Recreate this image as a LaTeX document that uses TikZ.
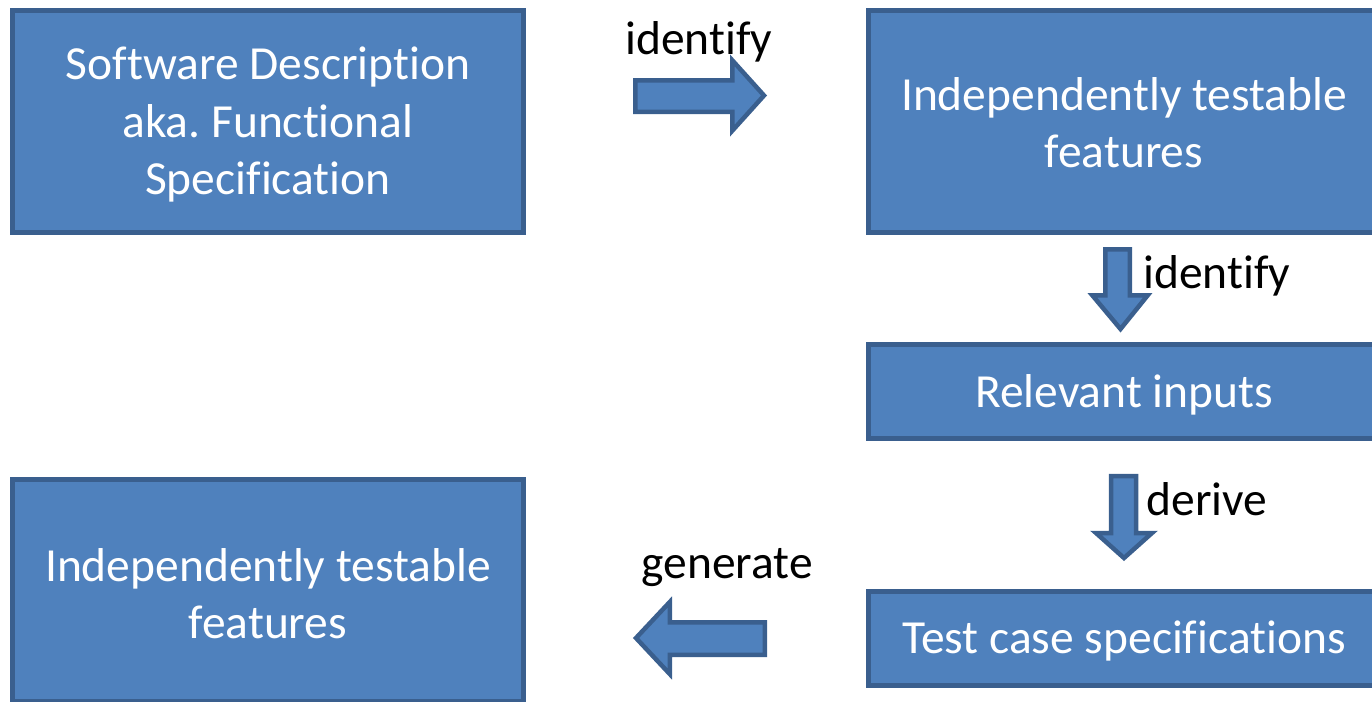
\documentclass[tikz,border=0pt]{standalone}
\usepackage{fontspec}
\setmainfont{Carlito}[Ligatures={CommonOff,ContextualOff}]
\frenchspacing
\definecolor{boxfill}{HTML}{4F81BD}
\definecolor{boxline}{HTML}{3A5F8E}
\begin{document}
\begin{tikzpicture}[x=1pt,y=-1pt,
  stagebox/.style={draw=boxline, fill=boxfill, line width=5pt, rectangle,
    minimum width=511pt, inner sep=0pt},
  stagetext/.style={text=white, align=center, inner sep=0pt,
    font=\fontsize{47.5}{57.5}\selectfont},
  blockarrow/.style={draw=boxline, fill=boxfill, line width=4.5pt, line join=miter},
  steplabel/.style={anchor=base, inner sep=0pt, font=\fontsize{47.5}{57.5}\selectfont}]
\useasboundingbox (0,0) rectangle (1372,701);

% process stages
\node[stagebox, minimum height=222pt] (spec) at (268,121.5) {};
\node[stagebox, minimum height=222pt] (itf) at (1124,121.5) {};
\node[stagebox, minimum height=94pt] (inputs) at (1124,391.5) {};
\node[stagebox, minimum height=94pt] (tcs) at (1124,638.5) {};
\node[stagebox, minimum height=222pt] (out) at (268,590.5) {};

% stage captions, set a little below the box centres
\node[stagetext] (spec-t) at ([yshift=-3pt]spec.center)
  {Software Description\\aka. Functional\\Specification};
\node[stagetext] (itf-t) at ([yshift=-1pt]itf.center)
  {Independently testable\\features};
\node[stagetext] (inputs-t) at ([yshift=-3pt]inputs.center) {Relevant inputs};
\node[stagetext] (tcs-t) at ([yshift=-2pt]tcs.center) {Test case specifications};
\node[stagetext] (out-t) at ([yshift=-3pt]out.center)
  {Independently testable\\features};

% block arrows between the stages
\draw[blockarrow] (635.25,80.25) -- (732.25,80.25) -- (732.25,60.25) -- (764,95.5)
  -- (732.25,130.75) -- (732.25,111.75) -- (635.25,111.75) -- cycle;
\draw[blockarrow] (1105.25,249.25) -- (1129.75,249.25) -- (1129.75,295.25) -- (1147.75,295.25)
  -- (1120.5,329) -- (1092.25,295.25) -- (1105.25,295.25) -- cycle;
\draw[blockarrow] (1111,476) -- (1136,476) -- (1136,533) -- (1152,533)
  -- (1124,558) -- (1096,533) -- (1111,533) -- cycle;
\draw[blockarrow] (764.75,622.25) -- (669.75,622.25) -- (669.75,602) -- (636,638)
  -- (669.75,674) -- (669.75,654.75) -- (764.75,654.75) -- cycle;

% arrow labels
\node[steplabel] (l1) at (699,55) {identify};
\node[steplabel] (l2) at (1217,288) {identify};
\node[steplabel] (l3) at (1207,515) {derive};
\node[steplabel] (l4) at (727,578) {generate};
\end{tikzpicture}
\end{document}
